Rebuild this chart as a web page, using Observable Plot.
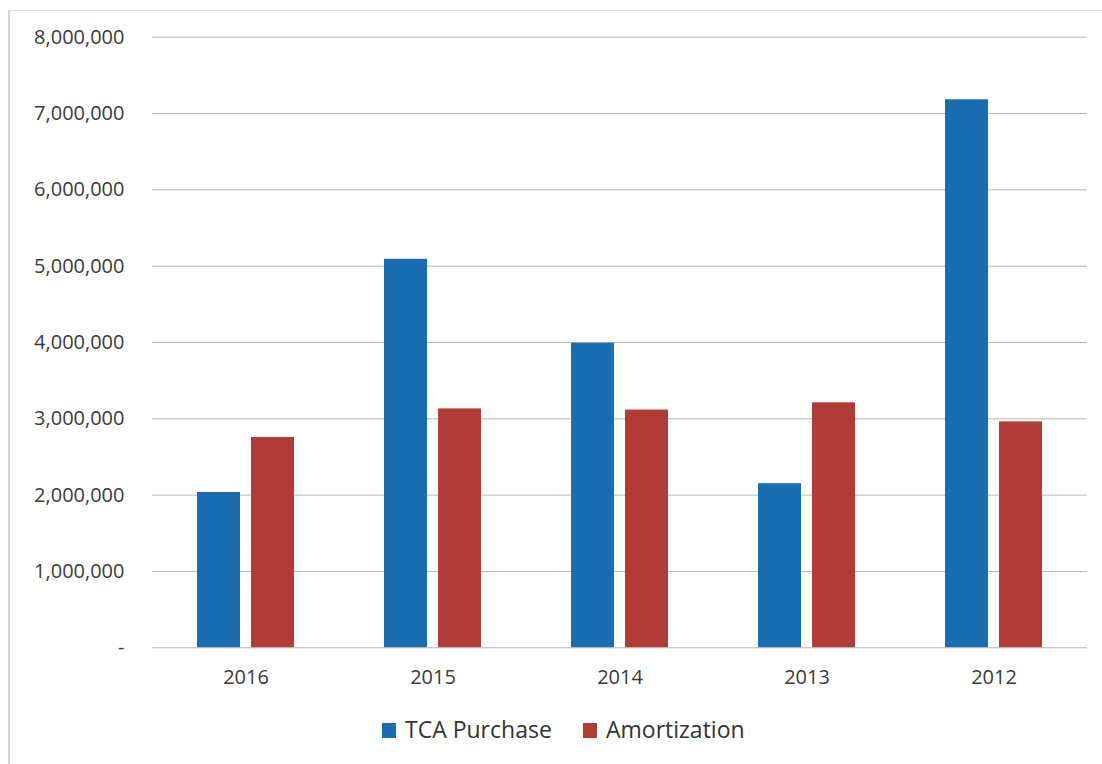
<!DOCTYPE html>
<html>
<head>
<meta charset="utf-8">
<script src="https://cdn.jsdelivr.net/npm/d3@7"></script>
<script src="https://cdn.jsdelivr.net/npm/@observablehq/plot@0.6"></script>
<style>
  html, body { margin: 0; padding: 0; background: #fff; }
  #wrap { position: relative; width: 1102px; height: 764px; overflow: hidden; font-family: "Open Sans", sans-serif; }
  #frame { position: absolute; left: 8px; top: 10px; width: 1200px; height: 800px; border-left: 2px solid #d4d4d4; border-top: 1px solid #e2e2e2; }
  #chart { position: absolute; left: 0; top: 0; }
  .leg { position: absolute; top: 712px; font-size: 23px; color: #333; line-height: 34px; white-space: nowrap; }
  .sw { position: absolute; top: 723px; width: 14px; height: 15px; }
</style>
</head>
<body>
<div id="wrap">
  <div id="frame"></div>
  <div id="chart"></div>
</div>
<script>
const years = ["2016", "2015", "2014", "2013", "2012"];
const series = ["TCA Purchase", "Amortization"];
const tcaPurchase = [2035000, 5090000, 3990000, 2150000, 7180000];
const amortization = [2755000, 3130000, 3115000, 3210000, 2960000];
const yTicks = [0, 1000000, 2000000, 3000000, 4000000, 5000000, 6000000, 7000000, 8000000];
const colors = ["#1b6db1", "#b03b37"];

const data = [];
years.forEach((yr, i) => {
  data.push({year: yr, series: series[0], value: tcaPurchase[i]});
  data.push({year: yr, series: series[1], value: amortization[i]});
});

const fmt = d => d === 0 ? "-" : d3.format(",")(d);

const chart = Plot.plot({
  width: 1102,
  height: 700,
  marginLeft: 151,
  marginRight: 15,
  marginTop: 36.7,
  marginBottom: 52.7,
  style: {fontFamily: "Open Sans, sans-serif", fontSize: "20px", color: "#3a3a3a", background: "transparent"},
  fx: {domain: years, padding: 0, label: null, axis: null},
  x: {domain: series, paddingInner: 0.204, paddingOuter: 0.81, axis: null},
  y: {domain: [0, 8000000], label: null},
  color: {domain: series, range: colors},
  marks: [
    Plot.gridY(yTicks.filter(d => d > 0), {stroke: "#b8b8b8", strokeOpacity: 1, strokeWidth: 1}),
    Plot.axisY(yTicks, {tickFormat: fmt, tickSize: 0, tickPadding: 28, label: null, fontSize: 20, fill: "#3a3a3a"}),
    Plot.axisFx({anchor: "bottom", tickSize: 0, tickPadding: 22, label: null, fontSize: 20, fill: "#3a3a3a"}),
    Plot.barY(data, {fx: "year", x: "series", y: "value", fill: "series"}),
    Plot.ruleY([0], {stroke: "#b0b0b0", strokeWidth: 1})
  ]
});
document.getElementById("chart").appendChild(chart);

// legend
const wrap = document.getElementById("wrap");
const legendPos = [{sw: 382, tx: 405}, {sw: 583, tx: 606}];
series.forEach((s, i) => {
  const sw = document.createElement("div");
  sw.className = "sw";
  sw.style.left = legendPos[i].sw + "px";
  sw.style.background = colors[i];
  wrap.appendChild(sw);
  const t = document.createElement("div");
  t.className = "leg";
  t.style.left = legendPos[i].tx + "px";
  t.textContent = s;
  wrap.appendChild(t);
});
</script>
</body>
</html>
